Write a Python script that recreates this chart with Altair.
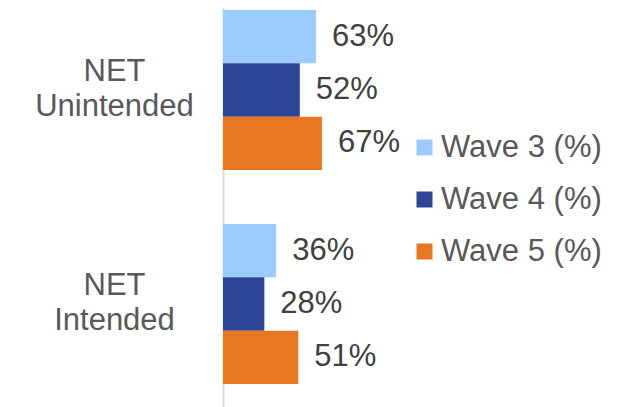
import altair as alt
import pandas as pd

categories = ["NET Unintended", "NET Intended"]
waves = ["Wave 3 (%)", "Wave 4 (%)", "Wave 5 (%)"]
unintended = [63, 52, 67]
intended = [36, 28, 51]
colors = ["#9BCBFF", "#2E4597", "#E87722"]

rows = []
for cat, vals in zip(categories, [unintended, intended]):
    for w, v in zip(waves, vals):
        rows.append({"category": cat, "wave": w, "value": v, "label": f"{v}%"})
df = pd.DataFrame(rows)

FONT = "Liberation Sans"

y = alt.Y(
    "category:N", sort=categories, title=None,
    scale=alt.Scale(paddingInner=0.252, paddingOuter=0.0582, align=0.08),
    axis=alt.Axis(
        labelExpr="split(datum.label, ' ')", labelAlign="center", labelBaseline="middle",
        labelPadding=109, ticks=False, tickSize=0, labelFontSize=31, labelOffset=-18,
        labelColor="#595959", labelFont=FONT, labelLineHeight=35,
        domainColor="#D9D9D9", domainWidth=2,
    ),
)

base = alt.Chart(df).encode(
    y=y,
    yOffset=alt.YOffset("wave:N", sort=waves),
    x=alt.X("value:Q", scale=alt.Scale(domain=[0, 265.4], nice=False), axis=None),
)

bars = base.mark_bar().encode(
    color=alt.Color(
        "wave:N",
        scale=alt.Scale(domain=waves, range=colors),
        legend=alt.Legend(
            title=None, orient="none", legendX=186, legendY=124,
            symbolType="square", symbolSize=256, symbolStrokeWidth=0,
            labelFontSize=31, labelColor="#595959", labelFont=FONT,
            labelOffset=1, rowPadding=20, padding=0, labelLimit=0,
        ),
    )
)

text = base.mark_text(
    align="left", baseline="middle", dx=16, fontSize=31, color="#404040", font=FONT
).encode(text="label:N")

chart = (bars + text).properties(
    width=392, height=399,
    autosize=alt.AutoSizeParams(type="none"),
    padding={"left": 215, "top": 0, "right": 0, "bottom": 0},
).configure_view(stroke=None)

chart.save("out.html", embed_options={"renderer": "svg", "actions": False})
